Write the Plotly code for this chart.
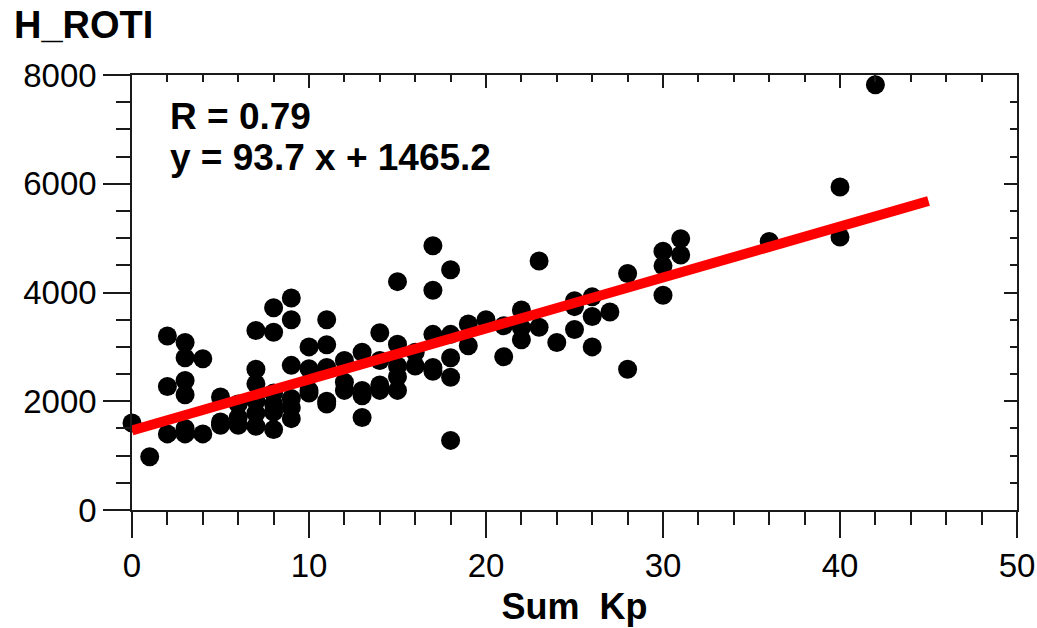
import plotly.graph_objects as go

# Sum Kp (x) and H_ROTI (y) values
sum_kp = [
    0, 1,
    2, 2, 2,
    3, 3, 3, 3, 3, 3,
    4, 4,
    5, 5, 5,
    6, 6, 6,
    7, 7, 7, 7, 7, 7,
    8, 8, 8, 8, 8, 8,
    9, 9, 9, 9, 9, 9,
    10, 10, 10, 10,
    11, 11, 11, 11, 11,
    12, 12, 12,
    13, 13, 13, 13,
    14, 14, 14, 14,
    15, 15, 15, 15, 15,
    16, 16,
    17, 17, 17, 17, 17,
    18, 18, 18, 18, 18,
    19, 19,
    20,
    21, 21,
    22, 22, 22,
    23, 23,
    24,
    25, 25, 25,
    26, 26, 26,
    27,
    28, 28,
    30, 30, 30,
    31, 31,
    36,
    40, 40,
    42,
]
h_roti = [
    1600, 980,
    3200, 2270, 1400,
    3080, 2800, 2380, 2120, 1500, 1400,
    2780, 1400,
    2080, 1620, 1560,
    1950, 1700, 1560,
    3300, 2590, 2320, 2000, 1780, 1540,
    3720, 3270, 2150, 1950, 1800, 1480,
    3900, 3500, 2660, 2050, 1880, 1680,
    3000, 2600, 2200, 2150,
    3500, 3040, 2620, 2000, 1950,
    2750, 2350, 2200,
    2900, 2200, 2100, 1700,
    3260, 2750, 2300, 2200,
    4200, 3050, 2650, 2450, 2200,
    2900, 2650,
    4860, 4040, 3230, 2620, 2550,
    4420, 3230, 2800, 2440, 1280,
    3420, 3020,
    3500,
    3390, 2820,
    3680, 3350, 3130,
    4580, 3360,
    3080,
    3850, 3740, 3320,
    3920, 3560, 3000,
    3640,
    4350, 2590,
    4760, 4490, 3950,
    4990, 4690,
    4940,
    5940, 5020,
    7820,
]

# Linear fit shown in the chart
slope = 93.7
intercept = 1465.2
r_value = 0.79
fit_x = [0, 45]
fit_y = [slope * v + intercept for v in fit_x]

x_range = [0, 50]
y_range = [0, 8000]

FONT = "Arial, Liberation Sans, sans-serif"
AXC = "#1a1a1a"

ML, MR, MT, MB = 132, 20, 75, 118
PW = 1037 - ML - MR
PH = 628 - MT - MB

fig = go.Figure()
fig.add_trace(go.Scatter(
    x=sum_kp, y=h_roti, mode="markers",
    marker=dict(size=19, color="black", line=dict(width=0)),
    cliponaxis=False, showlegend=False,
))
fig.add_trace(go.Scatter(
    x=fit_x, y=fit_y, mode="lines",
    line=dict(color="#ff0000", width=10),
    cliponaxis=False, showlegend=False,
))
# invisible trace to activate the mirrored (inside-tick) axes
fig.add_trace(go.Scatter(
    x=[None], y=[None], xaxis="x2", yaxis="y2", mode="markers",
    showlegend=False, hoverinfo="skip",
))

fig.update_layout(
    width=1037, height=628,
    margin=dict(l=ML, r=MR, t=MT, b=MB, autoexpand=False),
    paper_bgcolor="white", plot_bgcolor="white",
    font=dict(family=FONT, color="black"),
    xaxis=dict(
        range=x_range, dtick=10, tick0=0, automargin=False,
        showgrid=False, zeroline=False,
        showline=True, linecolor=AXC, linewidth=1.5,
        ticks="outside", ticklen=26, tickwidth=1.5, tickcolor=AXC,
        minor=dict(dtick=2, ticks="outside", ticklen=13, tickwidth=1.5, tickcolor=AXC),
        tickfont=dict(size=33, family=FONT),
        title=dict(text="<b>Sum\u00a0 Kp</b>", font=dict(size=36, family=FONT), standoff=10),
    ),
    yaxis=dict(
        range=y_range, dtick=2000, tick0=0, automargin=False,
        showgrid=False, zeroline=False,
        showline=True, linecolor=AXC, linewidth=1.5,
        ticks="outside", ticklen=27, tickwidth=1.5, tickcolor=AXC,
        minor=dict(dtick=500, ticks="outside", ticklen=14, tickwidth=1.5, tickcolor=AXC),
        tickfont=dict(size=33, family=FONT),
    ),
    xaxis2=dict(
        overlaying="x", side="top", matches="x", range=x_range, dtick=10,
        automargin=False,
        showgrid=False, zeroline=False, showticklabels=False,
        showline=True, linecolor=AXC, linewidth=1.5,
        ticks="inside", ticklen=13, tickwidth=1.5, tickcolor=AXC,
        minor=dict(dtick=2, ticks="inside", ticklen=7, tickwidth=1.5, tickcolor=AXC),
    ),
    yaxis2=dict(
        overlaying="y", side="right", matches="y", range=y_range, dtick=2000,
        automargin=False,
        showgrid=False, zeroline=False, showticklabels=False,
        showline=True, linecolor=AXC, linewidth=1.5,
        ticks="inside", ticklen=13, tickwidth=1.5, tickcolor=AXC,
        minor=dict(dtick=500, ticks="inside", ticklen=7, tickwidth=1.5, tickcolor=AXC),
    ),
    annotations=[
        dict(text="<b>H_ROTI</b>", xref="paper", yref="paper",
             x=(12 - ML) / PW, y=1 + (MT - 25) / PH,
             xanchor="left", yanchor="middle", showarrow=False,
             font=dict(size=38, family=FONT, color="black")),
        dict(text=f"<b>R = {r_value:.2f}</b>", xref="paper", yref="paper",
             x=(168 - ML) / PW, y=1 - (116 - MT) / PH,
             xanchor="left", yanchor="middle", showarrow=False,
             font=dict(size=37, family=FONT, color="black")),
        dict(text=f"<b>y = {slope} x + {intercept}</b>", xref="paper", yref="paper",
             x=(168 - ML) / PW, y=1 - (157 - MT) / PH,
             xanchor="left", yanchor="middle", showarrow=False,
             font=dict(size=37, family=FONT, color="black")),
    ],
)

fig.write_html(
    "out.html",
    config={"displayModeBar": False},
    post_script="document.body.style.margin='0';document.body.style.padding='0';"
                "document.body.style.overflow='hidden';",
)
